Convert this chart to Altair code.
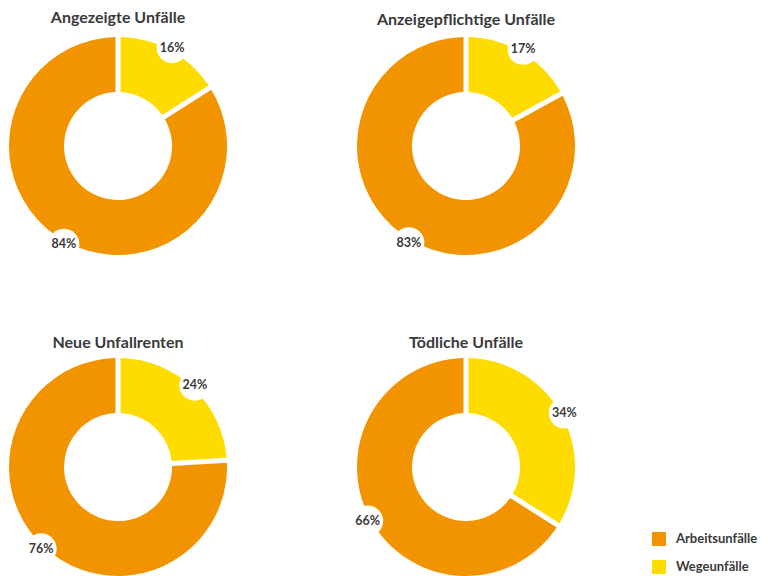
import altair as alt
import pandas as pd

charts = ["Angezeigte Unfälle", "Anzeigepflichtige Unfälle", "Neue Unfallrenten", "Tödliche Unfälle"]
arbeitsunfaelle = [84, 83, 76, 66]
wegeunfaelle = [16, 17, 24, 34]
categories = ["Arbeitsunfälle", "Wegeunfälle"]
colors = ["#F29400", "#FFDC00"]

rows = []
for c, a, w in zip(charts, arbeitsunfaelle, wegeunfaelle):
    rows.append({"chart": c, "cat": "Wegeunfälle", "value": w, "ord": 0})
    rows.append({"chart": c, "cat": "Arbeitsunfälle", "value": a, "ord": 1})
df = pd.DataFrame(rows)

FONT = "Lato"
TXT = "#3a3a3a"
D = 110 / 109

base = alt.Chart(df)

arcs = base.mark_arc(outerRadius=109, innerRadius=54, padAngle=0.041).encode(
    theta=alt.Theta("value:Q", stack=True),
    color=alt.Color(
        "cat:N",
        scale=alt.Scale(domain=categories, range=colors),
        legend=alt.Legend(
            title=None, orient="none", legendX=644, legendY=496,
            symbolType="square", symbolSize=196, symbolStrokeWidth=0,
            labelFontSize=13, labelFontWeight="bold", labelColor=TXT, labelFont=FONT,
            labelOffset=10, rowPadding=14,
        ),
    ),
    order=alt.Order("ord:Q"),
)

pos = base.transform_joinaggregate(
    total="sum(value)", groupby=["chart"]
).transform_window(
    cum="sum(value)", groupby=["chart"], sort=[alt.SortField("ord")], frame=[None, 0]
).transform_calculate(
    mid="(datum.cum - datum.value/2) / datum.total * 2 * PI",
    px="1.03 * sin(datum.mid)",
    py="1.03 * cos(datum.mid)",
    lbl="datum.value + '%'",
)

xs = alt.X("px:Q", scale=alt.Scale(domain=[-D, D]), axis=None)
ys = alt.Y("py:Q", scale=alt.Scale(domain=[-D, D]), axis=None)

badges = pos.mark_circle(size=962, color="white", opacity=1).encode(x=xs, y=ys)
labels = pos.mark_text(fontSize=12.5, fontWeight="bold", color=TXT, font=FONT).encode(
    x=xs, y=ys, text="lbl:N"
)

chart = alt.layer(arcs, badges, labels).properties(width=220, height=220).facet(
    facet=alt.Facet(
        "chart:N", sort=charts,
        header=alt.Header(
            title=None, labelFontSize=16, labelFontWeight="bold", labelColor=TXT,
            labelFont=FONT, labelPadding=6,
        ),
    ),
    columns=2,
    spacing={"row": 75, "column": 120},
).properties(
    padding={"top": 2, "left": 0, "right": 0, "bottom": 0}
).configure_view(stroke=None)

chart.save("out.html", embed_options={"renderer": "svg", "actions": False})
